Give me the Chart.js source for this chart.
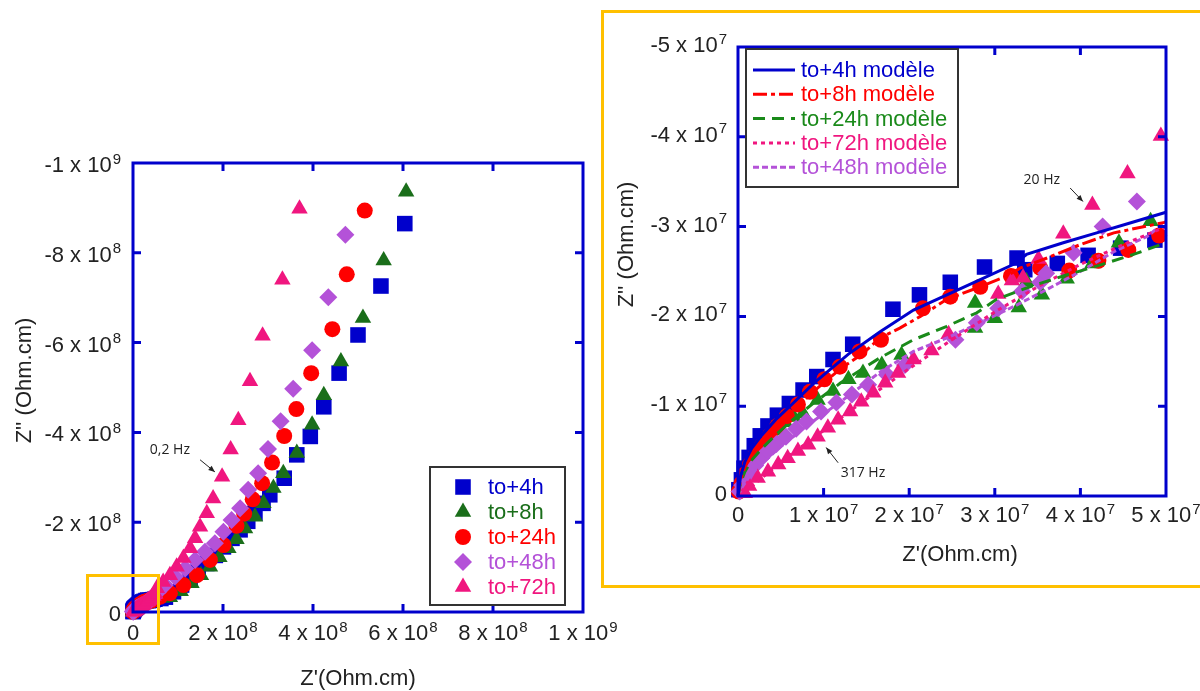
<!DOCTYPE html>
<html>
<head>
<meta charset="utf-8">
<title>Impedance spectra</title>
<script src="https://cdn.jsdelivr.net/npm/chart.js@4.4.1/dist/chart.umd.min.js"></script>
<style>
  html, body { margin: 0; padding: 0; background: #fff; }
  #page { position: relative; width: 1200px; height: 691px; overflow: hidden; }
  canvas { position: absolute; left: 0; top: 0; }
  .frame { position: absolute; border: 3px solid #FFC000; box-sizing: border-box; pointer-events: none; }
</style>
</head>
<body>
<div id="page">
  <canvas id="overview" width="1200" height="691"></canvas>
  <canvas id="zoomed" width="1200" height="691"></canvas>
  <div class="frame" style="left:601px;top:10px;width:620px;height:578px;"></div>
  <div class="frame" style="left:86px;top:574px;width:74px;height:71px;"></div>
</div>
<script>
/*
 Nyquist plots: whole range on the left, zoom on 0..5x10^7 on the right
*/

const UNIT = 1e7; // every value below is in 10^7 Ohm.cm

/**************** Measured points: Z' and -Z'' *************************/

const re4h = [0.01, 0.04, 0.07, 0.13, 0.19, 0.26, 0.35, 0.46, 0.60, 0.76, 0.92, 1.11, 1.34, 1.81, 2.12, 2.48, 2.88, 3.26, 3.35, 3.73, 4.09, 4.47, 4.87,
  6.2, 7.2, 9.0, 10.8, 12.7, 14.5, 16.4, 18.3, 20.1, 22.0, 23.8, 25.5, 27.1, 28.9, 30.4, 33.6, 36.4, 39.4, 42.4, 45.8, 50.0, 55.1, 60.4];
const mz4h = [0.07, 0.18, 0.31, 0.43, 0.56, 0.67, 0.78, 0.90, 1.03, 1.18, 1.33, 1.52, 1.69, 2.08, 2.24, 2.38, 2.55, 2.65, 2.52, 2.59, 2.68, 2.76, 2.85,
  3.0, 3.3, 4.5, 6.0, 7.5, 9.1, 10.8, 12.6, 14.5, 16.4, 18.3, 20.2, 22.0, 24.2, 26.1, 29.8, 35.0, 39.1, 45.7, 53.2, 61.7, 72.6, 86.5];

const re8h = [0.02, 0.05, 0.09, 0.14, 0.20, 0.27, 0.35, 0.44, 0.55, 0.65, 0.76, 0.93, 1.11, 1.29, 1.46, 1.68, 1.91, 2.77, 2.77, 3.00, 3.28, 3.37, 3.55, 3.84, 4.14, 4.45, 4.82,
  6.4, 8.2, 10.6, 13.0, 15.1, 17.1, 19.2, 21.2, 23.0, 24.9, 27.1, 29.0, 31.2, 33.4, 36.4, 39.8, 42.4, 46.2, 51.1, 55.7, 60.7];
const mz8h = [0.08, 0.18, 0.28, 0.37, 0.46, 0.55, 0.64, 0.73, 0.82, 0.88, 0.92, 1.07, 1.17, 1.30, 1.37, 1.46, 1.57, 1.87, 2.15, 1.98, 2.10, 2.39, 2.24, 2.42, 2.59, 2.82, 3.06,
  3.1, 3.3, 4.6, 6.4, 8.2, 10.1, 12.2, 14.2, 16.2, 18.6, 21.2, 24.2, 27.6, 30.9, 35.4, 41.7, 48.3, 55.8, 65.5, 78.3, 93.6];

const re24h = [0.01, 0.04, 0.08, 0.14, 0.21, 0.28, 0.37, 0.46, 0.57, 0.70, 0.84, 1.01, 1.19, 1.42, 1.67, 2.16, 2.48, 2.83, 3.19, 3.53, 3.87, 4.21, 4.56, 4.92,
  6.0, 8.2, 11.2, 14.2, 17.1, 20.1, 23.0, 24.7, 26.6, 28.7, 30.9, 33.6, 36.3, 39.6, 44.3, 47.5, 51.5];
const mz24h = [0.05, 0.14, 0.24, 0.35, 0.46, 0.56, 0.67, 0.78, 0.89, 1.02, 1.16, 1.30, 1.44, 1.61, 1.74, 2.09, 2.22, 2.33, 2.45, 2.54, 2.51, 2.62, 2.74, 2.90,
  3.4, 4.2, 6.0, 8.2, 11.6, 14.9, 19.2, 21.9, 25.1, 28.7, 33.3, 39.2, 45.2, 53.2, 63.0, 75.2, 89.4];

const re48h = [0.02, 0.05, 0.09, 0.14, 0.20, 0.27, 0.35, 0.45, 0.56, 0.68, 0.80, 0.97, 1.15, 1.33, 1.52, 1.74, 1.95, 2.54, 2.79, 3.04, 3.32, 3.53, 3.60, 3.92, 4.26, 4.66,
  5.6, 7.1, 9.3, 11.6, 13.8, 16.0, 18.2, 20.1, 21.9, 23.8, 25.6, 27.8, 30.0, 32.8, 35.6, 39.8, 43.4, 47.2];
const mz48h = [0.05, 0.12, 0.19, 0.26, 0.34, 0.42, 0.50, 0.58, 0.66, 0.75, 0.83, 0.94, 1.04, 1.13, 1.24, 1.35, 1.46, 1.74, 1.93, 2.09, 2.28, 2.38, 2.48, 2.71, 3.00, 3.28,
  4.5, 6.0, 7.9, 9.7, 11.6, 13.4, 15.3, 17.9, 20.5, 23.1, 27.2, 30.9, 36.3, 42.5, 49.7, 58.3, 70.1, 84.0];

const re72h = [0.08, 0.13, 0.23, 0.35, 0.47, 0.58, 0.70, 0.82, 0.93, 1.05, 1.17, 1.31, 1.44, 1.58, 1.72, 1.87, 2.05, 2.26, 2.46, 3.04, 3.20, 3.33, 3.51, 3.80, 4.14, 4.55, 4.94,
  5.3, 6.7, 8.2, 9.7, 11.2, 12.7, 13.8, 14.9, 16.4, 17.8, 19.8, 21.7, 23.4, 26.0, 28.8, 33.2, 37.0];
const mz72h = [0.03, 0.11, 0.20, 0.27, 0.35, 0.42, 0.50, 0.57, 0.66, 0.76, 0.85, 0.94, 1.05, 1.15, 1.26, 1.37, 1.52, 1.62, 1.80, 2.25, 2.40, 2.43, 2.64, 2.92, 3.24, 3.59, 4.01,
  5.3, 6.7, 8.2, 10.1, 12.0, 14.2, 16.4, 19.0, 22.0, 25.3, 30.1, 36.2, 42.7, 51.4, 61.5, 74.0, 89.8];

/**************** Model curves (zoom only) *************************/

const fitRe4h = [0, 0.03, 0.08, 0.16, 0.28, 0.44, 0.64, 0.89, 1.29, 1.66, 2.05, 2.44, 2.83, 3.22, 3.37, 3.80, 4.19, 4.58, 5.0];
const fitMz4h = [0, 0.22, 0.38, 0.53, 0.68, 0.85, 1.03, 1.26, 1.58, 1.83, 2.07, 2.24, 2.41, 2.58, 2.69, 2.82, 2.93, 3.04, 3.16];

const fitRe8h = [0, 0.03, 0.08, 0.16, 0.28, 0.44, 0.64, 0.89, 1.20, 1.45, 1.66, 1.89, 2.13, 2.44, 2.83, 3.14, 3.30, 3.61, 4.00, 4.39, 5.0];
const fitMz8h = [0, 0.18, 0.32, 0.46, 0.60, 0.77, 0.95, 1.17, 1.42, 1.58, 1.76, 1.87, 2.00, 2.19, 2.33, 2.45, 2.54, 2.65, 2.80, 2.93, 3.05];

const fitRe24h = [0, 0.03, 0.08, 0.16, 0.28, 0.44, 0.64, 0.89, 1.20, 1.66, 2.05, 2.44, 2.79, 3.02, 3.41, 3.80, 4.19, 4.62, 5.0];
const fitMz24h = [0, 0.15, 0.27, 0.40, 0.53, 0.68, 0.85, 1.04, 1.26, 1.54, 1.74, 1.89, 2.04, 2.19, 2.33, 2.45, 2.56, 2.69, 2.82];

const fitRe72h = [0, 0.1, 0.3, 0.6, 1.0, 1.5, 2.0, 2.5, 3.0, 3.5, 4.0, 4.5, 5.0];
const fitMz72h = [0, 0.06, 0.22, 0.45, 0.73, 1.08, 1.42, 1.74, 2.05, 2.33, 2.58, 2.80, 3.00];

const fitRe48h = [0, 0.05, 0.15, 0.30, 0.50, 0.80, 1.20, 1.66, 2.05, 2.44, 2.83, 3.22, 3.61, 4.00, 4.39, 4.78, 5.0];
const fitMz48h = [0, 0.10, 0.24, 0.38, 0.55, 0.78, 1.05, 1.38, 1.61, 1.76, 1.93, 2.11, 2.30, 2.50, 2.72, 2.89, 3.06];

/**************** Tick values (Ohm.cm) *************************/

const overviewXTicks = [0, 2e8, 4e8, 6e8, 8e8, 1e9];
const overviewYTicks = [0, -2e8, -4e8, -6e8, -8e8, -1e9];
const zoomXTicks = [0, 1e7, 2e7, 3e7, 4e7, 5e7];
const zoomYTicks = [0, -1e7, -2e7, -3e7, -4e7, -5e7];

/**************** Styles *************************/

const AXIS_BLUE = '#0000CC';
const TEXT = '#222';
const FONT = '"Liberation Sans", Arial, sans-serif';
const NOTE_FONT = '14px "Open Sans", sans-serif';
const TICK = 8;

const BLUE = '#0000CC', GREEN = '#1A6E1A', GREEN2 = '#1A8A1A', RED = '#FF0000', PURPLE = '#B452D8', PINK = '#F0167F';


/**************** Helpers *************************/

function toPoints(re, mz) {
    return re.map((v, i) => ({ x: v * UNIT, y: -mz[i] * UNIT }));
}

function markerSet(label, re, mz, color, style, radius, order, keep) {
    let pts = toPoints(re, mz);
    if (keep) pts = pts.filter(keep);
    return {
        label: label,
        data: pts,
        showLine: false,
        pointStyle: style,
        pointRadius: radius,
        pointBackgroundColor: color,
        pointBorderWidth: 0,
        backgroundColor: color,
        borderColor: color,
        clip: false,
        order: order,
        legendKind: 'marker'
    };
}

function fitSet(label, re, mz, color, dash) {
    return {
        label: label,
        data: toPoints(re, mz),
        showLine: true,
        pointRadius: 0,
        borderColor: color,
        backgroundColor: color,
        borderWidth: 3,
        borderDash: dash,
        fill: false,
        tension: 0,
        clip: false,
        order: 0,
        legendKind: 'line'
    };
}

// "8 x 10" + exponent "8"
function sciParts(v) {
    if (v === 0) return ['0', ''];
    const e = Math.floor(Math.log10(Math.abs(v)) + 1e-9);
    const m = Math.round(v / Math.pow(10, e));
    return [m + ' x 10', String(e)];
}

function drawSci(ctx, v, x, y, align) {
    const [base, exp] = sciParts(v);
    ctx.font = '22px ' + FONT;
    const wb = ctx.measureText(base).width;
    ctx.font = '15px ' + FONT;
    const we = exp ? ctx.measureText(exp).width + 1 : 0;
    const total = wb + we;
    const x0 = align === 'center' ? x - total / 2 : x - total;
    ctx.textAlign = 'left';
    ctx.textBaseline = 'alphabetic';
    ctx.font = '22px ' + FONT;
    ctx.fillText(base, x0, y);
    if (exp) {
        ctx.font = '15px ' + FONT;
        ctx.fillText(exp, x0 + wb + 1, y - 8.5);
    }
}

function arrow(ctx, x0, y0, x1, y1) {
    const ang = Math.atan2(y1 - y0, x1 - x0);
    ctx.beginPath();
    ctx.moveTo(x0, y0);
    ctx.lineTo(x1, y1);
    ctx.stroke();
    ctx.beginPath();
    ctx.moveTo(x1, y1);
    ctx.lineTo(x1 - 7 * Math.cos(ang - 0.4), y1 - 7 * Math.sin(ang - 0.4));
    ctx.lineTo(x1 - 7 * Math.cos(ang + 0.4), y1 - 7 * Math.sin(ang + 0.4));
    ctx.closePath();
    ctx.fill();
}

function drawMarker(ctx, ds, cx, cy) {
    ctx.fillStyle = ds.backgroundColor;
    if (Chart.helpers && Chart.helpers.drawPoint) {
        Chart.helpers.drawPoint(ctx, { pointStyle: ds.pointStyle, radius: ds.pointRadius, borderWidth: 0, rotation: 0 }, cx, cy);
        return;
    }
    ctx.beginPath();
    ctx.arc(cx, cy, ds.pointRadius, 0, Math.PI * 2);
    ctx.fill();
}


/**************** Frame, ticks, titles, legend, notes *************************/

function makeFrame(o) {
    return {
        id: 'frameAxes',
        afterDatasetsDraw(chart) {
            const ctx = chart.ctx;
            const a = chart.chartArea;
            const sx = chart.scales.x, sy = chart.scales.y;
            ctx.save();

            // box
            ctx.strokeStyle = AXIS_BLUE;
            ctx.lineWidth = 3;
            ctx.setLineDash([]);
            ctx.strokeRect(a.left, a.top, a.right - a.left, a.bottom - a.top);

            // inward ticks on all four sides
            ctx.beginPath();
            o.xTicks.forEach(v => {
                const px = sx.getPixelForValue(v);
                if (px <= a.left + 2 || px >= a.right - 2) return;
                ctx.moveTo(px, a.bottom); ctx.lineTo(px, a.bottom - TICK);
                ctx.moveTo(px, a.top); ctx.lineTo(px, a.top + TICK);
            });
            o.yTicks.forEach(v => {
                const py = sy.getPixelForValue(v);
                if (py <= a.top + 2 || py >= a.bottom - 2) return;
                ctx.moveTo(a.left, py); ctx.lineTo(a.left + TICK, py);
                ctx.moveTo(a.right, py); ctx.lineTo(a.right - TICK, py);
            });
            ctx.stroke();

            // tick labels
            ctx.fillStyle = TEXT;
            o.xTicks.forEach(v => drawSci(ctx, v, sx.getPixelForValue(v), a.bottom + o.xLabelDrop, 'center'));
            o.yTicks.forEach(v => drawSci(ctx, v, a.left - o.yLabelGap, sy.getPixelForValue(v) + o.yLabelDrop, 'right'));

            // axis titles
            ctx.font = '22px ' + FONT;
            ctx.textAlign = 'center';
            ctx.textBaseline = 'middle';
            ctx.fillText(o.xTitle, (a.left + a.right) / 2 + o.xTitleDx, a.bottom + o.xTitleDrop);
            ctx.save();
            ctx.translate(a.left - o.yTitleGap, (a.top + a.bottom) / 2 + o.yTitleDy);
            ctx.rotate(-Math.PI / 2);
            ctx.fillText(o.yTitle, 0, 0);
            ctx.restore();

            // legend box
            const L = o.legend;
            const bx = a.left + L.dx;
            const by = L.fromBottom ? a.bottom - L.dy : a.top + L.dy;
            ctx.fillStyle = '#fff';
            ctx.fillRect(bx, by, L.w, L.h);
            ctx.strokeStyle = '#333';
            ctx.lineWidth = 2;
            ctx.strokeRect(bx, by, L.w, L.h);
            const items = chart.data.datasets.filter(d => d.legendKind === L.kind);
            const ordered = L.rows.map(name => items.find(d => d.label === name));
            ordered.forEach((ds, i) => {
                const cy = by + L.firstRow + i * L.rowStep;
                if (L.kind === 'marker') {
                    drawMarker(ctx, ds, bx + L.sampleX, cy);
                } else {
                    ctx.strokeStyle = ds.borderColor;
                    ctx.lineWidth = ds.borderWidth;
                    ctx.setLineDash(ds.borderDash || []);
                    ctx.beginPath();
                    ctx.moveTo(bx + L.sampleX, cy);
                    ctx.lineTo(bx + L.sampleX2, cy);
                    ctx.stroke();
                    ctx.setLineDash([]);
                }
                ctx.font = '22px ' + FONT;
                ctx.textAlign = 'left';
                ctx.textBaseline = 'middle';
                ctx.fillStyle = ds.borderColor;
                ctx.fillText(ds.label, bx + L.textX, cy + 1);
            });

            // frequency notes
            ctx.fillStyle = TEXT;
            ctx.strokeStyle = TEXT;
            ctx.lineWidth = 1;
            o.notes.forEach(n => {
                ctx.font = NOTE_FONT;
                ctx.textAlign = 'center';
                ctx.textBaseline = 'middle';
                ctx.fillText(n.text, sx.getPixelForValue(n.at[0]), sy.getPixelForValue(n.at[1]));
                arrow(ctx, sx.getPixelForValue(n.from[0]), sy.getPixelForValue(n.from[1]),
                           sx.getPixelForValue(n.to[0]), sy.getPixelForValue(n.to[1]));
            });

            ctx.restore();
        }
    };
}

function baseOptions(padding, xMax, yMin) {
    return {
        responsive: false,
        animation: false,
        events: [],
        layout: { padding: padding },
        scales: {
            x: { type: 'linear', min: 0, max: xMax, display: false },
            y: { type: 'linear', min: yMin, max: 0, reverse: true, display: false }
        },
        plugins: {
            legend: { display: false },
            tooltip: { enabled: false }
        }
    };
}


/**************** Load charts *************************/

// left: whole spectra
new Chart(document.getElementById('overview'), {
    type: 'scatter',
    data: {
        datasets: [
            markerSet('to+4h', re4h, mz4h, BLUE, 'rect', 11, 5),
            markerSet('to+8h', re8h, mz8h, GREEN, 'triangle', 9.5, 4),
            markerSet('to+24h', re24h, mz24h, RED, 'circle', 8, 3),
            markerSet('to+48h', re48h, mz48h, PURPLE, 'rectRot', 9, 2),
            markerSet('to+72h', re72h, mz72h, PINK, 'triangle', 9.5, 1)
        ]
    },
    options: baseOptions({ left: 133, right: 617, top: 163, bottom: 79 }, 1e9, -1e9),
    plugins: [makeFrame({
        xTicks: overviewXTicks,
        yTicks: overviewYTicks,
        xLabelDrop: 28,
        yLabelGap: 12,
        yLabelDrop: 9,
        xTitle: "Z'(Ohm.cm)",
        xTitleDx: 0,
        xTitleDrop: 67,
        yTitle: "Z'' (Ohm.cm)",
        yTitleGap: 108,
        yTitleDy: -7,
        legend: {
            kind: 'marker', rows: ['to+4h', 'to+8h', 'to+24h', 'to+48h', 'to+72h'],
            dx: 297, dy: 145, fromBottom: true, w: 135, h: 138,
            firstRow: 20, rowStep: 25, sampleX: 33, textX: 58
        },
        notes: [
            { text: '0,2 Hz', at: [8.2e7, -3.61e8], from: [14.9e7, -33.9e7], to: [18.2e7, -31.2e7] }
        ]
    })]
});

// right: zoom on the high frequency part
const inZoom = p => p.x <= 5.05e7 && p.y >= -5.05e7;

new Chart(document.getElementById('zoomed'), {
    type: 'scatter',
    data: {
        datasets: [
            fitSet('to+4h modèle', fitRe4h, fitMz4h, BLUE, []),
            fitSet('to+8h modèle', fitRe8h, fitMz8h, RED, [14, 4, 4, 4]),
            fitSet('to+24h modèle', fitRe24h, fitMz24h, GREEN2, [12, 7]),
            fitSet('to+72h modèle', fitRe72h, fitMz72h, PINK, [4, 4]),
            fitSet('to+48h modèle', fitRe48h, fitMz48h, PURPLE, [6, 3]),
            markerSet('to+4h', re4h, mz4h, BLUE, 'rect', 11, 5, inZoom),
            markerSet('to+8h', re8h, mz8h, GREEN2, 'triangle', 9.5, 4, inZoom),
            markerSet('to+24h', re24h, mz24h, RED, 'circle', 8, 3, inZoom),
            markerSet('to+48h', re48h, mz48h, PURPLE, 'rectRot', 9, 2, inZoom),
            markerSet('to+72h', re72h, mz72h, PINK, 'triangle', 9.5, 1, inZoom)
        ]
    },
    options: baseOptions({ left: 738, right: 34, top: 47, bottom: 195 }, 5e7, -5e7),
    plugins: [makeFrame({
        xTicks: zoomXTicks,
        yTicks: zoomYTicks,
        xLabelDrop: 26,
        yLabelGap: 11,
        yLabelDrop: 5,
        xTitle: "Z'(Ohm.cm)",
        xTitleDx: 8,
        xTitleDrop: 59,
        yTitle: "Z'' (Ohm.cm)",
        yTitleGap: 111,
        yTitleDy: -27,
        legend: {
            kind: 'line', rows: ['to+4h modèle', 'to+8h modèle', 'to+24h modèle', 'to+72h modèle', 'to+48h modèle'],
            dx: 8, dy: 2, w: 212, h: 138,
            firstRow: 21, rowStep: 24.3, sampleX: 7, sampleX2: 49, textX: 55
        },
        notes: [
            { text: '20 Hz', at: [3.55e7, -3.52e7], from: [3.88e7, -3.43e7], to: [4.03e7, -3.28e7] },
            { text: '317 Hz', at: [1.46e7, -0.26e7], from: [1.17e7, -0.37e7], to: [1.03e7, -0.54e7] }
        ]
    })]
});
</script>
</body>
</html>
